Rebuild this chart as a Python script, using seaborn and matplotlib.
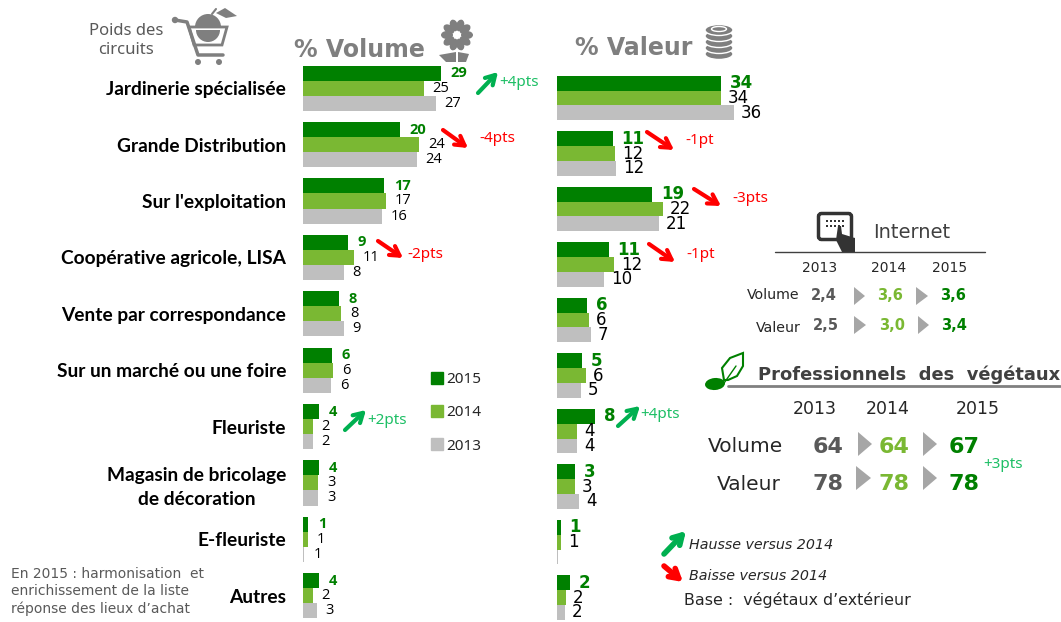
import numpy as np
import pandas as pd
import seaborn as sns
import matplotlib.pyplot as plt
from matplotlib.lines import Line2D
from matplotlib.patches import Circle, Ellipse, FancyBboxPatch, Polygon, Rectangle, Wedge

circuits = ['Jardinerie spécialisée', 'Grande Distribution', "Sur l'exploitation",
            'Coopérative agricole, LISA', 'Vente par correspondance',
            'Sur un marché ou une foire', 'Fleuriste',
            'Magasin de bricolage\nde décoration', 'E-fleuriste', 'Autres']
annees = ['2015', '2014', '2013']

# bar lengths, labels as printed
volume_2015 = [29.0, 20.4, 17.0, 9.5, 7.6, 6.1, 3.4, 3.4, 1.05, 3.4]
volume_2014 = [25.4, 24.4, 17.4, 10.7, 8.0, 6.3, 2.1, 3.2, 1.05, 2.1]
volume_2013 = [27.9, 23.9, 16.6, 8.6, 8.6, 5.9, 2.1, 3.2, 0.3, 2.9]
valeur_2015 = [33.8, 11.5, 19.6, 10.7, 6.2, 5.2, 7.8, 3.7, 0.8, 2.7]
valeur_2014 = [33.8, 12.0, 21.9, 11.8, 6.6, 6.0, 4.1, 3.7, 0.8, 1.9]
valeur_2013 = [36.5, 12.2, 21.0, 9.7, 7.0, 4.9, 4.1, 4.5, 0.2, 1.6]

volume_labels = {'2015': [29, 20, 17, 9, 8, 6, 4, 4, 1, 4],
                 '2014': [25, 24, 17, 11, 8, 6, 2, 3, 1, 2],
                 '2013': [27, 24, 16, 8, 9, 6, 2, 3, 1, 3]}
valeur_labels = {'2015': [34, 11, 19, 11, 6, 5, 8, 3, 1, 2],
                 '2014': [34, 12, 22, 12, 6, 6, 4, 3, 1, 2],
                 '2013': [36, 12, 21, 10, 7, 5, 4, 4, '', 2]}

internet_annees = ['2013', '2014', '2015']
internet_volume = ['2,4', '3,6', '3,6']
internet_valeur = ['2,5', '3,0', '3,4']
pro_annees = ['2013', '2014', '2015']
pro_volume = ['64', '64', '67']
pro_valeur = ['78', '78', '78']

DARK = '#008000'
MID = '#7AB833'
GREY = '#BFBFBF'
UP = '#00B050'
DOWN = '#FF0000'
PTS = '#1DBF65'
ICON = '#7F7F7F'
palette = {'2015': DARK, '2014': MID, '2013': GREY}

W, H = 1061, 622
sns.set_theme(style='white')
plt.rcParams['font.family'] = ['DejaVu Sans']

df = pd.DataFrame({'circuit': circuits * 3,
                   'annee': np.repeat(annees, len(circuits)),
                   'volume': volume_2015 + volume_2014 + volume_2013,
                   'valeur': valeur_2015 + valeur_2014 + valeur_2013})

fig = plt.figure(figsize=(W / 100, H / 100), dpi=100)


def px_axes(left, top, right, bottom):
    return fig.add_axes([left / W, 1 - bottom / H, (right - left) / W, (bottom - top) / H])


def draw_bars(ax, col, labels, pads, sizes, family):
    sns.barplot(data=df, y='circuit', x=col, hue='annee', hue_order=annees, order=circuits,
                palette=palette, width=0.8, gap=0, saturation=1, legend=False, linewidth=0, ax=ax)
    ax.set_xlim(0, 40)
    ax.set_xlabel('')
    ax.set_ylabel('')
    ax.set_xticks([])
    sns.despine(ax=ax, left=True, bottom=True)
    ax.patch.set_alpha(0)
    for cont, an in zip(ax.containers, annees):
        if an == '2015':
            ax.bar_label(cont, labels=[str(v) for v in labels[an]], padding=pads[0], color=DARK,
                         fontweight='bold', fontsize=sizes[0], family=family)
        else:
            ax.bar_label(cont, labels=[str(v) for v in labels[an]], padding=pads[1], color='black',
                         fontsize=sizes[1], family=family)


ax_vol = px_axes(303, 60, 493.4, 620)
draw_bars(ax_vol, 'volume', volume_labels, (7, 6.3), (10.5, 10.5), 'Open Sans')
ax_vol.set_ylim(9.43, -0.5)
ax_vol.tick_params(axis='y', length=0, pad=12)
ax_vol.set_yticks(range(len(circuits)))
ax_vol.set_yticklabels(circuits, family='Lato', fontweight='bold', fontsize=13.8,
                       color='black', multialignment='center', linespacing=1.5)

ax_val = px_axes(557, 70.25, 751, 621)
draw_bars(ax_val, 'valeur', valeur_labels, (6.3, 5), (12, 12), 'DejaVu Sans')
ax_val.set_ylim(9.42, -0.5)
ax_val.set_yticks([])

handles = [Line2D([], [], marker='s', ls='', ms=8, color=palette[a]) for a in annees]
ax_vol.legend(handles, annees, loc='upper left', bbox_to_anchor=(431 / W, 1 - 372 / H),
              bbox_transform=fig.transFigure, frameon=False, handlelength=0.75,
              handletextpad=0.25, labelspacing=1.2, borderpad=0, borderaxespad=0,
              labelcolor='#262626', prop={'family': 'Noto Sans', 'size': 11})

# overlay in pixel coordinates for the annotations and icons
ov = fig.add_axes([0, 0, 1, 1], zorder=5)
ov.set_xlim(0, W)
ov.set_ylim(H, 0)
ov.axis('off')
ov.patch.set_alpha(0)


def txt(x, y, s, size=10, color='black', ha='center', family='DejaVu Sans', **kw):
    ov.text(x, y, s, fontsize=size, color=color, ha=ha, va='center', family=family, **kw)


def arrow(x0, y0, x1, y1, color, lw=3):
    ov.annotate('', xy=(x1, y1), xytext=(x0, y0),
                arrowprops=dict(arrowstyle='->,head_length=0.55,head_width=0.32', color=color,
                                lw=lw, shrinkA=0, shrinkB=0))


def triangle(x0, x1, y0, y1):
    ov.add_patch(Polygon([(x0, y0), (x1, (y0 + y1) / 2), (x0, y1)], fc='#A6A6A6', ec='none'))


# heads of the panels
txt(126, 31, 'Poids des', 12, '#595959', family='Noto Sans')
txt(126, 50, 'circuits', 12, '#595959', family='Noto Sans')
txt(294, 50, '% Volume', 17, ICON, ha='left', fontweight='bold')
txt(575, 48, '% Valeur', 17, ICON, ha='left', fontweight='bold')

# cart
ov.plot([175, 187, 198, 223], [20, 22, 55, 55], color=ICON, lw=2.5, solid_capstyle='round')
ov.add_patch(Circle((175, 20), 3.2, fc=ICON, ec='none'))
ov.add_patch(Polygon([(189, 27), (227, 27), (222, 45), (194, 45)], fc='white', ec=ICON, lw=2))
ov.add_patch(Wedge((208, 27), 13, 180, 360, fc=ICON, ec='none'))
ov.add_patch(Wedge((208, 30), 12, 0, 180, fc=ICON, ec='none'))
ov.plot([212, 216], [14, 9], color=ICON, lw=1.5)
ov.add_patch(Polygon([(216, 13), (225, 8), (237, 16), (226, 18)], fc=ICON, ec='none'))
ov.add_patch(Circle((198, 62), 3, fc=ICON, ec='none'))
ov.add_patch(Circle((219, 62), 3, fc=ICON, ec='none'))

# flower
for ang in np.arange(0, 360, 36):
    ov.add_patch(Ellipse((457 + 10 * np.cos(np.radians(ang)), 35 + 10 * np.sin(np.radians(ang))),
                         12, 8, angle=ang, fc=ICON, ec='none'))
ov.add_patch(Circle((457, 35), 3, fc='white', ec='none'))
ov.add_patch(Polygon([(439, 55), (456, 52), (456, 62), (446, 62)], fc=ICON, ec='none'))
ov.add_patch(Polygon([(458, 62), (458, 52), (469, 54), (466, 62)], fc=ICON, ec='none'))

# coins
for yc in [54, 48, 42, 36, 30]:
    ov.add_patch(Ellipse((719, yc), 28, 11, fc=ICON, ec='white', lw=1))
ov.add_patch(Ellipse((719, 29), 15, 5, fc=ICON, ec='white', lw=1))

# trend arrows of the bars
pts = dict(size=11, ha='left', family='Noto Sans')
arrow(478, 93, 498, 72, UP)
txt(499, 83, '+4pts', color=PTS, **pts)
arrow(443, 130, 468, 148, DOWN)
txt(479, 139, '-4pts', color=DOWN, **pts)
arrow(378, 241, 403, 258, DOWN)
txt(407, 254, '-2pts', color=DOWN, **pts)
arrow(345, 430, 366, 410, UP)
txt(367, 420, '+2pts', color=PTS, **pts)
arrow(647, 132, 674, 150, DOWN)
txt(685, 141, '-1pt', color=DOWN, **pts)
arrow(694, 189, 721, 206, DOWN)
txt(732, 198, '-3pts', color=DOWN, **pts)
arrow(649, 244, 675, 262, DOWN)
txt(686, 254, '-1pt', color=DOWN, **pts)
arrow(618, 426, 640, 406, UP)
txt(640, 415, '+4pts', color=PTS, **pts)

# internet block
ov.add_patch(FancyBboxPatch((820, 215), 30, 23, boxstyle='round,pad=1.5,rounding_size=3',
                            fc='white', ec='#333333', lw=2.5))
for i in range(5):
    ov.add_patch(Rectangle((826 + 4 * i, 220), 2, 2, fc='#333333', ec='none'))
    ov.add_patch(Rectangle((826 + 4 * i, 225), 2, 2, fc='#333333', ec='none'))
ov.add_patch(Polygon([(838, 226), (841, 226), (842, 234), (855, 238), (855, 252), (842, 252), (836, 240)],
                     fc='#333333', ec='none'))
txt(873, 233, 'Internet', 14, '#404040', ha='left')
ov.plot([775, 985], [252, 252], color='#404040', lw=1)
for x, s in zip([820, 889, 950], internet_annees):
    txt(x, 268, s, 10, '#262626')
txt(747, 295, 'Volume', 10.2, '#262626', ha='left')
txt(756, 328, 'Valeur', 10.2, '#262626', ha='left')
for x, s, c in zip([824, 890, 953], internet_volume, ['#595959', MID, DARK]):
    txt(x, 295, s, 10.5, c, fontweight='bold')
for x, s, c in zip([826, 892, 954], internet_valeur, ['#595959', MID, DARK]):
    txt(x, 326, s, 10.5, c, fontweight='bold')
triangle(854, 865, 287, 305)
triangle(916, 928, 287, 305)
triangle(854, 866, 316, 334)
triangle(918, 929, 316, 334)

# professionnels block
ov.add_patch(Ellipse((715, 384), 20, 12, angle=-5, fc=DARK, ec='none'))
ov.add_patch(Polygon([(724, 380), (722, 368), (730, 358), (743, 353), (743, 366), (737, 376), (728, 380)],
                     fc='white', ec=DARK, lw=1.5))
ov.plot([722, 736], [386, 366], color=DARK, lw=1)
ov.plot([728, 1060], [386, 386], color='#808080', lw=2)
txt(758, 375, 'Professionnels  des  végétaux', 12.9, '#404040', ha='left', fontweight='bold')
for x, s in zip([815, 888, 978], pro_annees):
    txt(x, 409, s, 12.5, '#262626')
txt(745, 446, 'Volume', 14.5, '#262626')
txt(749, 484, 'Valeur', 14.5, '#262626')
for x, s, c in zip([828, 894, 964], pro_volume, ['#595959', MID, DARK]):
    txt(x, 447, s, 16, c, fontweight='bold')
for x, s, c in zip([828, 894, 964], pro_valeur, ['#595959', MID, DARK]):
    txt(x, 484, s, 16, c, fontweight='bold')
triangle(858, 872, 432, 456)
triangle(923, 937, 432, 456)
triangle(856, 871, 466, 490)
triangle(923, 937, 466, 490)
txt(983, 464, '+3pts', color=PTS, **pts)

# key and notes
arrow(664, 554, 686, 531, UP, lw=4)
txt(689, 545, 'Hausse versus 2014', 10.3, '#262626', ha='left', style='italic')
arrow(664, 566, 683, 582, DOWN, lw=4)
txt(689, 576, 'Baisse versus 2014', 10.3, '#262626', ha='left', style='italic')
txt(684, 600, 'Base :  végétaux d’extérieur', 11.4, '#262626', ha='left')
txt(11, 574, 'En 2015 : harmonisation  et', 10, '#595959', ha='left')
txt(11, 591, 'enrichissement de la liste', 10, '#595959', ha='left')
txt(11, 609, 'réponse des lieux d’achat', 10, '#595959', ha='left')

fig.savefig('out.png', dpi=100)
